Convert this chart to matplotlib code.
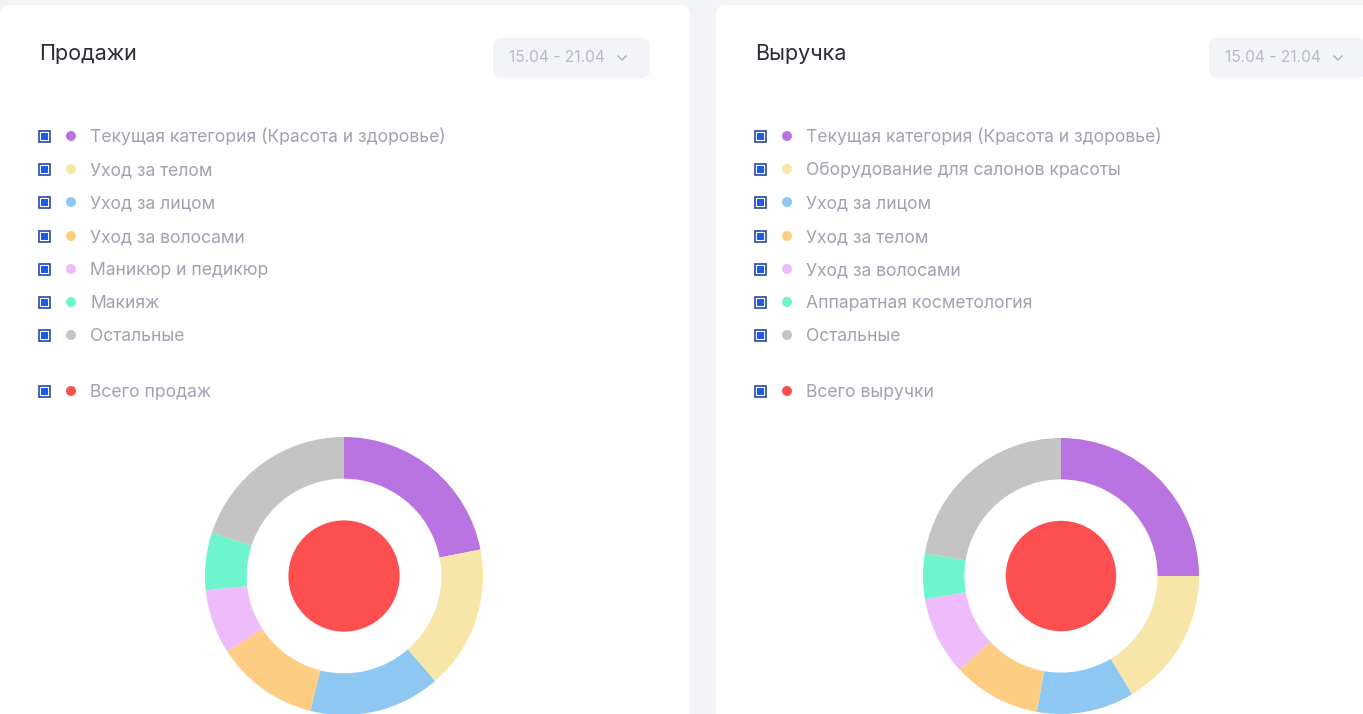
import matplotlib.pyplot as plt
from matplotlib.patches import FancyBboxPatch, Rectangle, Circle

plt.rcParams['font.family'] = ['Inter', 'DejaVu Sans']

# data (shares in %)
sales_title = 'Продажи'
sales_labels = ['Текущая категория (Красота и здоровье)', 'Уход за телом', 'Уход за лицом',
                'Уход за волосами', 'Маникюр и педикюр', 'Макияж', 'Остальные']
sales_share = [22.0, 16.7, 15.3, 12.0, 7.5, 6.7, 20.0]
sales_total_label = 'Всего продаж'

rev_title = 'Выручка'
rev_labels = ['Текущая категория (Красота и здоровье)', 'Оборудование для салонов красоты',
              'Уход за лицом', 'Уход за телом', 'Уход за волосами', 'Аппаратная косметология',
              'Остальные']
rev_share = [25.0, 16.4, 11.4, 10.3, 9.2, 5.3, 22.4]
rev_total_label = 'Всего выручки'

period = '15.04 - 21.04'

colors = ['#b974e2', '#f7e6a8', '#8ec8f2', '#fccd82', '#eebcfa', '#6ef5cd', '#c4c4c4']
total_color = '#fd4f50'

W, H = 1363, 714
fig = plt.figure(figsize=(W / 100, H / 100), dpi=100)
fig.patch.set_facecolor('#f3f4f8')

bg = fig.add_axes([0, 0, 1, 1])
bg.set_xlim(0, W)
bg.set_ylim(H, 0)
bg.axis('off')

def card(x0, x1, title, labels, total_label):
    bg.add_patch(FancyBboxPatch((x0, 5), x1 - x0, H + 20, boxstyle='round,pad=0,rounding_size=10',
                                fc='white', ec='none'))
    bg.text(x0 + 39, 54, title, fontsize=15.5, color='#2b2b36', va='center')
    # period dropdown
    bg.add_patch(FancyBboxPatch((x0 + 493, 38), 157, 40, boxstyle='round,pad=0,rounding_size=9',
                                fc='#f3f4f8', ec='none'))
    bg.text(x0 + 509, 58, period, fontsize=11.2, color='#b8bbc6', va='center')
    cx = x0 + 622
    bg.plot([cx - 4, cx, cx + 4], [56, 60, 56], color='#b8bbc6', lw=1.2)
    ys = [136, 169, 202, 236, 269, 302, 335]
    items = list(zip(ys, labels, colors)) + [(391, total_label, total_color)]
    for y, lab, c in items:
        bg.add_patch(Rectangle((x0 + 39, y - 5.5), 11, 11, fc='white', ec='#2748a8', lw=1.2))
        bg.add_patch(Rectangle((x0 + 41, y - 3.5), 7, 7, fc='#1d5ce6', ec='none'))
        bg.add_patch(Circle((x0 + 71, y), 5, fc=c, ec='none'))
        bg.text(x0 + 90, y + 1.5, lab, fontsize=12.6, color='#a0a2b0', va='center')

card(0, 690, sales_title, sales_labels, sales_total_label)
card(716, 1380, rev_title, rev_labels, rev_total_label)

def donut(cx, cy, R, shares):
    ax = fig.add_axes([(cx - R) / W, 1 - (cy + R) / H, 2 * R / W, 2 * R / H])
    ax.pie(shares, colors=colors, startangle=90, counterclock=False, radius=1,
           wedgeprops=dict(width=0.3, linewidth=0))
    ax.pie([sum(shares)], colors=[total_color], radius=0.4, wedgeprops=dict(linewidth=0))
    ax.set_xlim(-1, 1)
    ax.set_ylim(-1, 1)
    ax.axis('off')

donut(344, 576, 139, sales_share)
donut(1061, 576, 138, rev_share)

fig.savefig('out.png', dpi=100, facecolor=fig.get_facecolor())
